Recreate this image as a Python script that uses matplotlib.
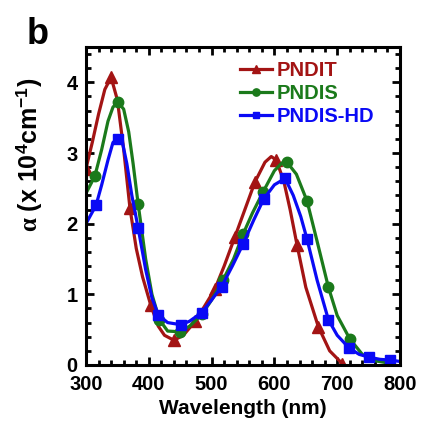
import numpy as np
import matplotlib
matplotlib.use("Agg")
import matplotlib.pyplot as plt
from matplotlib.ticker import MultipleLocator

plt.rcParams['font.family'] = ['Liberation Sans', 'DejaVu Sans']
plt.rcParams['font.weight'] = 'bold'
plt.rcParams['mathtext.fontset'] = 'custom'
plt.rcParams['mathtext.rm'] = 'Liberation Sans:bold'
plt.rcParams['mathtext.bf'] = 'Liberation Sans:bold'
plt.rcParams['mathtext.it'] = 'Liberation Serif'

# ---- data ----
pndit_wl = [300, 310, 320, 330, 340, 350, 360, 370, 380, 390, 403, 415, 425, 440, 455,
            474, 490, 505, 520, 537, 553, 569, 585, 595, 603, 615, 625, 636, 650, 670,
            688, 708]
pndit_a = [2.78, 3.15, 3.55, 3.90, 4.07, 3.75, 3.05, 2.22, 1.65, 1.25, 0.85, 0.55, 0.42,
           0.35, 0.42, 0.62, 0.85, 1.07, 1.40, 1.81, 2.20, 2.59, 2.87, 2.95, 2.90, 2.60,
           2.20, 1.70, 1.10, 0.54, 0.20, 0.02]
pndit_mk = [300, 340, 370, 403, 440, 474, 505, 537, 569, 603, 636, 670, 708]

pndis_wl = [300, 314, 325, 335, 343, 351, 360, 368, 375, 383, 395, 405, 417, 430, 450,
            465, 485, 500, 518, 535, 550, 565, 582, 600, 612, 620, 635, 652, 668, 686,
            700, 720, 740, 760, 780]
pndis_a = [2.43, 2.67, 3.05, 3.45, 3.65, 3.72, 3.62, 3.30, 2.85, 2.28, 1.50, 1.00, 0.64,
           0.48, 0.47, 0.55, 0.72, 0.92, 1.20, 1.50, 1.85, 2.15, 2.45, 2.75, 2.86, 2.87,
           2.70, 2.32, 1.75, 1.10, 0.70, 0.37, 0.15, 0.06, 0.03]
pndis_mk = [314, 351, 383, 417, 450, 485, 518, 550, 582, 620, 652, 686, 720]

pndishd_wl = [300, 316, 325, 335, 343, 351, 358, 365, 373, 383, 395, 405, 415, 430, 451,
              465, 484, 500, 516, 533, 550, 567, 583, 600, 617, 630, 642, 652, 668, 686,
              700, 719, 735, 751, 768, 784, 800]
pndishd_a = [2.00, 2.26, 2.55, 2.90, 3.15, 3.20, 3.15, 2.85, 2.40, 1.94, 1.35, 0.95, 0.71,
             0.60, 0.57, 0.62, 0.74, 0.92, 1.11, 1.40, 1.71, 2.05, 2.35, 2.55, 2.64, 2.40,
             2.10, 1.78, 1.20, 0.64, 0.42, 0.24, 0.15, 0.11, 0.08, 0.07, 0.05]
pndishd_mk = [316, 351, 383, 415, 451, 484, 516, 550, 583, 617, 652, 686, 719, 751, 784]

series = [
    ("PNDIT", pndit_wl, pndit_a, pndit_mk, "#A31414", "^", 8),
    ("PNDIS", pndis_wl, pndis_a, pndis_mk, "#1B7A1B", "o", 7.5),
    ("PNDIS-HD", pndishd_wl, pndishd_a, pndishd_mk, "#0A0AF5", "s", 7),
]

fig = plt.figure(figsize=(4.27, 4.22), dpi=100)
ax = fig.add_axes([0.2014, 0.1351, 0.7354, 0.7535])

for name, wl, a, mk, col, m, ms in series:
    idx = [wl.index(v) for v in mk]
    ax.plot(wl, a, color=col, lw=2.3, marker=m, ms=ms, markevery=idx, label=name,
            solid_joinstyle='round')

ax.set_xlim(300, 800)
ax.set_ylim(0, 4.5)
ax.xaxis.set_major_locator(MultipleLocator(100))
ax.xaxis.set_minor_locator(MultipleLocator(20))
ax.yaxis.set_major_locator(MultipleLocator(1))
ax.yaxis.set_minor_locator(MultipleLocator(0.2))
ax.tick_params(which='both', direction='in', top=True, right=True, width=2,
               labelsize=14.5)
ax.tick_params(axis='x', pad=7)
ax.tick_params(axis='y', pad=6)
ax.tick_params(which='major', length=6)
ax.tick_params(which='minor', length=3.5)
for s in ax.spines.values():
    s.set_linewidth(2.2)

ax.set_xlabel("Wavelength (nm)", fontsize=15, fontweight='bold', labelpad=4)
ax.set_ylabel(r"$\mathit{\alpha}$ (x 10$^{4}$cm$^{-1}$)", fontsize=18, fontweight='bold')
ax.yaxis.set_label_coords(-0.135, 0.66)

leg = ax.legend(loc='upper left', bbox_to_anchor=(0.49, 0.955), frameon=False,
                handlelength=1.6, handletextpad=0.25, labelspacing=0.2,
                borderpad=0, borderaxespad=0, markerscale=0.7, labelcolor='linecolor',
                prop={'weight': 'bold', 'size': 14.5})

fig.text(0.063, 0.895, "b", fontsize=26, fontweight='bold')

fig.savefig("out.png", dpi=100)
